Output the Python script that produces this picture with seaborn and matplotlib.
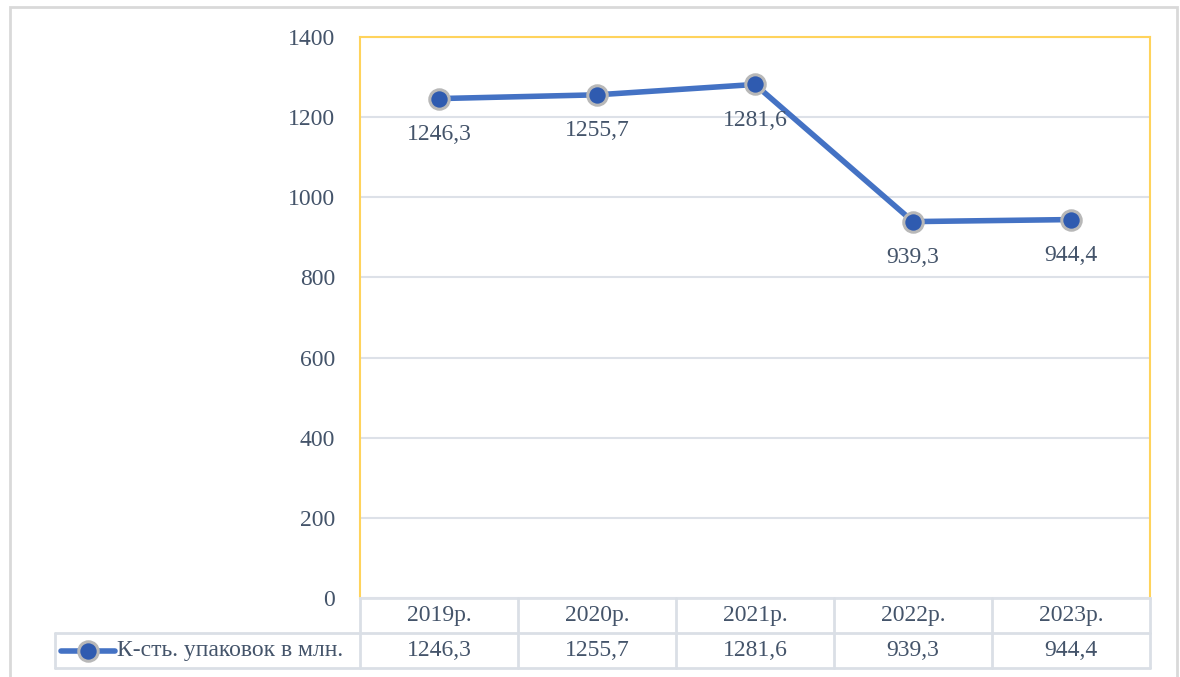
import matplotlib
matplotlib.use("Agg")
import matplotlib.pyplot as plt
from matplotlib.patches import Rectangle
from matplotlib.lines import Line2D
import pandas as pd
import seaborn as sns

# дані
years = ["2019р.", "2020р.", "2021р.", "2022р.", "2023р."]
packs = [1246.3, 1255.7, 1281.6, 939.3, 944.4]
value_labels = ["1246,3", "1255,7", "1281,6", "939,3", "944,4"]
series_name = "К-сть. упаковок в млн."
y_ticks = [0, 200, 400, 600, 800, 1000, 1200, 1400]

TEXT = "#44546A"
LINE = "#4472C4"
GRID = "#DDE1E8"
GOLD = "#FFD35C"
FS = 17

sns.set_theme(style="white")
plt.rcParams["font.family"] = ["Liberation Serif", "DejaVu Serif"]

W, H = 1180, 677
fig = plt.figure(figsize=(W / 100, H / 100), dpi=100)


def fx(px):
    return px / W


def fy(py):
    return 1 - py / H


# зовнішня рамка
fig.add_artist(Rectangle((fx(10), fy(690)), fx(1177) - fx(10), fy(7) - fy(690),
                         transform=fig.transFigure, fill=False,
                         edgecolor="#D9D9D9", lw=2))

left, right, top, bottom = 360, 1150, 37, 598
ax = fig.add_axes([fx(left), fy(bottom), fx(right) - fx(left), fy(top) - fy(bottom)])

df = pd.DataFrame({"year": years, "packs": packs})
sns.lineplot(data=df, x="year", y="packs", ax=ax, color=LINE, lw=4,
             marker="o", markersize=14, markerfacecolor="#2F5BB0",
             markeredgecolor="#B8B8B8", markeredgewidth=2.2, zorder=3)

for i, (v, lab) in enumerate(zip(packs, value_labels)):
    ax.annotate(lab, (i, v), xytext=(0, -26), textcoords="offset points",
                ha="center", va="center", fontsize=FS, color=TEXT)

ax.set_xlim(-0.5, len(years) - 0.5)
ax.set_ylim(0, 1400)
ax.set_yticks(y_ticks)
ax.set_xticks([])
ax.set_xlabel("")
ax.set_ylabel("")
ax.tick_params(axis="y", length=0, pad=18, labelsize=FS, labelcolor=TEXT)
ax.yaxis.grid(True, color=GRID, lw=1.5)
ax.set_axisbelow(True)
for side in ["left", "right", "top"]:
    ax.spines[side].set_color(GOLD)
    ax.spines[side].set_linewidth(1.5)
ax.spines["bottom"].set_color(GRID)
ax.spines["bottom"].set_linewidth(2)

# таблиця даних
row1, row2, row3 = 598, 633, 668
col_w = (right - left) / len(years)
tab_color = "#DADFE6"


def hline(x0, x1, y):
    fig.add_artist(Line2D([fx(x0), fx(x1)], [fy(y), fy(y)], color=tab_color, lw=2))


def vline(x, y0, y1):
    fig.add_artist(Line2D([fx(x), fx(x)], [fy(y0), fy(y1)], color=tab_color, lw=2))


hline(55, right, row2)
hline(55, right, row3)
vline(55, row2, row3)
for k in range(len(years) + 1):
    vline(left + k * col_w, row1, row3)

for k, (yr, lab) in enumerate(zip(years, value_labels)):
    cx = left + (k + 0.5) * col_w
    fig.text(fx(cx), fy((row1 + row2) / 2), yr, ha="center", va="center",
             fontsize=FS, color=TEXT)
    fig.text(fx(cx), fy((row2 + row3) / 2), lab, ha="center", va="center",
             fontsize=FS, color=TEXT)

# ключ легенди
ky = fy((row2 + row3) / 2)
fig.add_artist(Line2D([fx(61), fx(115)], [ky, ky], color=LINE, lw=4))
fig.add_artist(Line2D([fx(88)], [ky], marker="o", markersize=14,
                      markerfacecolor="#2F5BB0", markeredgecolor="#B8B8B8",
                      markeredgewidth=2.2))
fig.text(fx(117), ky, series_name, ha="left", va="center", fontsize=FS,
         color=TEXT)

fig.savefig("out.png", dpi=100)
